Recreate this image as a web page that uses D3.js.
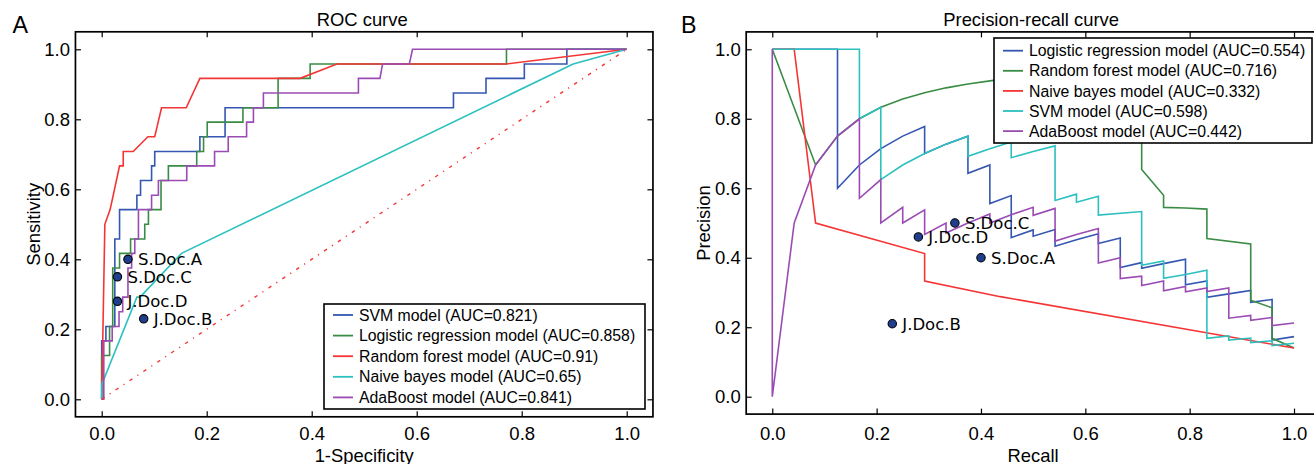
<!DOCTYPE html>
<html>
<head>
<meta charset="utf-8">
<script src="https://cdn.jsdelivr.net/npm/d3@7"></script>
<style>
  html, body { margin: 0; padding: 0; background: #fff; overflow: hidden; }
  svg { display: block; }
  text { font-family: "Liberation Sans", Arial, Helvetica, sans-serif; fill: #000; }
  .doc-label { font-family: "DejaVu Sans", sans-serif; }
</style>
</head>
<body>
<svg id="fig" width="1314" height="464"></svg>
<script>
// ---------- ROC curves (false positive rate / sensitivity) ----------
const rocSvmFpr = [0, 0, 0.008, 0.008, 0.025, 0.025, 0.034, 0.034, 0.067, 0.067, 0.074, 0.074, 0.095, 0.095, 0.101, 0.101, 0.187, 0.187, 0.235, 0.235, 0.67, 0.67, 0.732, 0.732, 0.805, 0.805, 0.886, 0.886, 1];
const rocSvmTpr = [0, 0.167, 0.167, 0.208, 0.208, 0.458, 0.458, 0.542, 0.542, 0.583, 0.583, 0.625, 0.625, 0.667, 0.667, 0.708, 0.708, 0.75, 0.75, 0.833, 0.833, 0.875, 0.875, 0.917, 0.917, 0.958, 0.958, 1, 1];

const rocLrFpr = [0, 0, 0.015, 0.015, 0.021, 0.021, 0.034, 0.034, 0.055, 0.055, 0.082, 0.082, 0.089, 0.089, 0.113, 0.113, 0.127, 0.127, 0.181, 0.181, 0.194, 0.194, 0.201, 0.201, 0.269, 0.269, 0.336, 0.336, 0.397, 0.397, 0.771, 0.771, 1];
const rocLrTpr = [0, 0.125, 0.125, 0.208, 0.208, 0.375, 0.375, 0.417, 0.417, 0.458, 0.458, 0.5, 0.5, 0.542, 0.542, 0.625, 0.625, 0.667, 0.667, 0.708, 0.708, 0.75, 0.75, 0.792, 0.792, 0.833, 0.833, 0.917, 0.917, 0.958, 0.958, 1, 1];

const rocRfFpr = [0, 0.006, 0.016, 0.022, 0.034, 0.041, 0.041, 0.06, 0.088, 0.101, 0.114, 0.161, 0.187, 0.378, 0.448, 0.771, 1];
const rocRfTpr = [0, 0.5, 0.542, 0.583, 0.667, 0.667, 0.708, 0.708, 0.75, 0.75, 0.833, 0.833, 0.917, 0.917, 0.958, 0.958, 1];

const rocNbFpr = [0, 0, 0.067, 0.073, 0.152, 0.898, 1];
const rocNbTpr = [0, 0.042, 0.292, 0.292, 0.417, 0.958, 1];

const rocAdaFpr = [0, 0.004, 0.004, 0.02, 0.02, 0.033, 0.033, 0.04, 0.04, 0.05, 0.05, 0.057, 0.057, 0.063, 0.063, 0.07, 0.07, 0.095, 0.095, 0.108, 0.108, 0.162, 0.162, 0.215, 0.215, 0.241, 0.241, 0.276, 0.276, 0.289, 0.289, 0.308, 0.308, 0.489, 0.489, 0.53, 0.535, 0.586, 0.592, 1];
const rocAdaTpr = [0, 0, 0.167, 0.167, 0.208, 0.208, 0.25, 0.25, 0.292, 0.292, 0.375, 0.375, 0.417, 0.417, 0.458, 0.458, 0.542, 0.542, 0.583, 0.583, 0.625, 0.625, 0.667, 0.667, 0.708, 0.708, 0.75, 0.75, 0.792, 0.792, 0.833, 0.833, 0.875, 0.875, 0.917, 0.917, 0.958, 0.958, 1, 1];

const rocLabels = ["SVM model (AUC=0.821)", "Logistic regression model (AUC=0.858)", "Random forest model (AUC=0.91)", "Naive bayes model (AUC=0.65)", "AdaBoost model (AUC=0.841)"];

// ---------- Precision-recall curves ----------
const prLrRecall = [0, 0.125, 0.125, 0.167, 0.208, 0.25, 0.292, 0.292, 0.333, 0.375, 0.375, 0.417, 0.417, 0.458, 0.458, 0.5, 0.5, 0.542, 0.542, 0.583, 0.625, 0.625, 0.667, 0.667, 0.708, 0.708, 0.75, 0.792, 0.792, 0.833, 0.833, 0.875, 0.917, 0.917, 0.958, 0.958, 1];
const prLrPrecision = [1, 1, 0.6, 0.667, 0.714, 0.75, 0.778, 0.7, 0.727, 0.75, 0.643, 0.667, 0.556, 0.579, 0.458, 0.48, 0.462, 0.481, 0.433, 0.452, 0.469, 0.441, 0.457, 0.372, 0.386, 0.37, 0.383, 0.396, 0.322, 0.333, 0.286, 0.296, 0.306, 0.272, 0.28, 0.163, 0.173];

const prRfRecall = [0, 0.083, 0.125, 0.167, 0.208, 0.25, 0.292, 0.333, 0.375, 0.417, 0.458, 0.5, 0.542, 0.583, 0.625, 0.667, 0.708, 0.708, 0.75, 0.75, 0.792, 0.833, 0.833, 0.917, 0.917, 0.958, 0.958, 1];
const prRfPrecision = [1, 0.667, 0.75, 0.8, 0.833, 0.857, 0.875, 0.889, 0.9, 0.909, 0.917, 0.923, 0.929, 0.933, 0.938, 0.941, 0.944, 0.654, 0.58, 0.545, 0.543, 0.54, 0.455, 0.44, 0.278, 0.256, 0.168, 0.14];

const prNbRecall = [0, 0.042, 0.083, 0.292, 0.292, 0.437, 1];
const prNbPrecision = [1, 1, 0.5, 0.412, 0.333, 0.288, 0.14];

const prSvmRecall = [0, 0.167, 0.167, 0.208, 0.208, 0.25, 0.292, 0.333, 0.375, 0.375, 0.417, 0.458, 0.458, 0.5, 0.542, 0.542, 0.583, 0.583, 0.625, 0.625, 0.708, 0.708, 0.75, 0.75, 0.792, 0.833, 0.833, 0.875, 0.875, 0.917, 0.917, 0.958, 0.958, 1];
const prSvmPrecision = [1, 1, 0.8, 0.833, 0.625, 0.667, 0.7, 0.727, 0.75, 0.692, 0.714, 0.733, 0.688, 0.706, 0.722, 0.565, 0.583, 0.56, 0.577, 0.523, 0.533, 0.378, 0.391, 0.341, 0.352, 0.364, 0.168, 0.175, 0.163, 0.169, 0.156, 0.161, 0.147, 0.154];

const prAdaRecall = [0, 0, 0.042, 0.083, 0.125, 0.167, 0.167, 0.208, 0.208, 0.25, 0.25, 0.292, 0.292, 0.333, 0.333, 0.375, 0.417, 0.417, 0.458, 0.5, 0.5, 0.542, 0.542, 0.583, 0.625, 0.625, 0.667, 0.667, 0.708, 0.708, 0.75, 0.75, 0.792, 0.792, 0.833, 0.833, 0.875, 0.875, 0.917, 0.917, 0.958, 0.958, 1];
const prAdaPrecision = [1, 0, 0.5, 0.667, 0.75, 0.8, 0.571, 0.625, 0.5, 0.545, 0.5, 0.538, 0.467, 0.5, 0.471, 0.5, 0.526, 0.5, 0.524, 0.545, 0.522, 0.542, 0.448, 0.467, 0.484, 0.385, 0.4, 0.34, 0.347, 0.32, 0.333, 0.305, 0.317, 0.302, 0.313, 0.303, 0.313, 0.226, 0.234, 0.22, 0.228, 0.205, 0.212];

const prLabels = ["Logistic regression model (AUC=0.554)", "Random forest model (AUC=0.716)", "Naive bayes model (AUC=0.332)", "SVM model (AUC=0.598)", "AdaBoost model (AUC=0.442)"];

// ---------- Individual readers ----------
const docNames = ["S.Doc.A", "S.Doc.C", "J.Doc.D", "J.Doc.B"];
const docFpr = [0.05, 0.03, 0.03, 0.08];
const docSensitivity = [0.40, 0.35, 0.28, 0.23];
const docRecall = [0.40, 0.35, 0.28, 0.23];
const docPrecision = [0.40, 0.50, 0.46, 0.21];

const tickValues = [0, 0.2, 0.4, 0.6, 0.8, 1.0];

// ---------- styling ----------
const C = { blue: "#3457b2", green: "#3a8c45", red: "#f53535", cyan: "#2cc0c0", purple: "#9a4cb4" };
const rocColors = [C.blue, C.green, C.red, C.cyan, C.purple];
const prColors = [C.blue, C.green, C.red, C.cyan, C.purple];
const tickFont = 18.5, labelFont = 18.4, legendFont = 15.8;

const svg = d3.select("#fig");

function zip(xs, ys) { return xs.map((x, i) => [x, ys[i]]); }

function panel(opts) {
  const { x, y, title, xLabel, yLabel, letter, letterX, yLabelX, padBottom } = opts;
  const g = svg.append("g");
  const [x0, x1] = x.range(), [y0, y1] = y.range();

  // ticks pointing inward on all four sides
  const fmt = d3.format(".1f");
  g.append("g").attr("transform", `translate(0,${y0})`)
    .call(d3.axisBottom(x).tickValues(tickValues).tickFormat(fmt).tickSize(-5.5).tickPadding(padBottom))
    .call(a => a.select(".domain").remove());
  g.append("g").attr("transform", `translate(0,${y1})`)
    .call(d3.axisTop(x).tickValues(tickValues).tickFormat("").tickSize(-5.5))
    .call(a => a.select(".domain").remove());
  g.append("g").attr("transform", `translate(${x0},0)`)
    .call(d3.axisLeft(y).tickValues(tickValues).tickFormat(fmt).tickSize(-5.5).tickPadding(5.5))
    .call(a => a.select(".domain").remove());
  g.append("g").attr("transform", `translate(${x1},0)`)
    .call(d3.axisRight(y).tickValues(tickValues).tickFormat("").tickSize(-5.5))
    .call(a => a.select(".domain").remove());
  g.selectAll(".tick line").attr("stroke", "#000").attr("stroke-width", 1.2);
  g.selectAll(".tick text").attr("font-size", tickFont).attr("font-family", "Liberation Sans, Arial, sans-serif").attr("fill", "#000");

  // titles and labels
  g.append("text").attr("x", (x0 + x1) / 2 - 2).attr("y", 26).attr("text-anchor", "middle")
    .attr("font-size", labelFont).text(title);
  g.append("text").attr("x", (x0 + x1) / 2).attr("y", 462).attr("text-anchor", "middle")
    .attr("font-size", labelFont).text(xLabel);
  g.append("text").attr("transform", `translate(${yLabelX},${(y0 + y1) / 2}) rotate(-90)`)
    .attr("text-anchor", "middle").attr("font-size", labelFont).text(yLabel);
  g.append("text").attr("x", letterX).attr("y", 33.3).attr("font-size", 23.3).text(letter);

  const plot = g.append("g");
  return { g, plot, frame: () => g.append("rect").attr("x", x0).attr("y", y1)
      .attr("width", x1 - x0).attr("height", y0 - y1)
      .attr("fill", "none").attr("stroke", "#000").attr("stroke-width", 1.7) };
}

function drawLines(plot, x, y, series, colors) {
  const line = d3.line().x(d => x(d[0])).y(d => y(d[1]));
  series.forEach((s, i) => {
    plot.append("path").datum(s).attr("d", line)
      .attr("fill", "none").attr("stroke", colors[i]).attr("stroke-width", 1.6)
      .attr("stroke-linejoin", "miter");
  });
}

function drawDocs(plot, x, y, xs, ys) {
  docNames.forEach((name, i) => {
    plot.append("circle").attr("cx", x(xs[i])).attr("cy", y(ys[i])).attr("r", 4.2)
      .attr("fill", "#1f3f8e").attr("stroke", "#000").attr("stroke-width", 1.1);
    plot.append("text").attr("class", "doc-label")
      .attr("x", x(xs[i]) + 10).attr("y", y(ys[i]) + 6)
      .attr("font-size", 16.5).text(name);
  });
}

function drawLegend(g, bx, by, bw, bh, labels, colors, row0, step) {
  g.append("rect").attr("x", bx).attr("y", by).attr("width", bw).attr("height", bh)
    .attr("fill", "#fff").attr("stroke", "#000").attr("stroke-width", 1.6);
  labels.forEach((lab, i) => {
    const cy = row0 + i * step;
    g.append("line").attr("x1", bx + 9).attr("x2", bx + 29).attr("y1", cy).attr("y2", cy)
      .attr("stroke", colors[i]).attr("stroke-width", 1.8);
    g.append("text").attr("x", bx + 35).attr("y", cy + 5.6).attr("font-size", legendFont).text(lab);
  });
}

// ---------- Panel A: ROC ----------
const xA = d3.scaleLinear().domain([-0.05, 1.05]).range([75.45, 652.95]);
const yA = d3.scaleLinear().domain([-0.05, 1.05]).range([416.8, 31.8]);
const A = panel({ x: xA, y: yA, title: "ROC curve", xLabel: "1-Specificity", yLabel: "Sensitivity",
                  letter: "A", letterX: 12.5, yLabelX: 39.5, padBottom: 10.2 });
drawLines(A.plot, xA, yA, [
  zip(rocSvmFpr, rocSvmTpr), zip(rocLrFpr, rocLrTpr), zip(rocRfFpr, rocRfTpr),
  zip(rocNbFpr, rocNbTpr), zip(rocAdaFpr, rocAdaTpr)
], rocColors);
// chance diagonal
A.plot.append("path").datum([[0, 0], [1, 1]])
  .attr("d", d3.line().x(d => xA(d[0])).y(d => yA(d[1])))
  .attr("fill", "none").attr("stroke", C.red).attr("stroke-width", 1.4)
  .attr("stroke-dasharray", "3.5,6,1.2,6");
drawDocs(A.plot, xA, yA, docFpr, docSensitivity);
drawLegend(A.g, 324, 304, 321, 105, rocLabels, rocColors, 315, 20.6);
A.frame();

// ---------- Panel B: Precision-recall ----------
const xB = d3.scaleLinear().domain([-0.05, 1.05]).range([746.2, 1320.1]);
const yB = d3.scaleLinear().domain([-0.05, 1.05]).range([414.1, 31.9]);
const B = panel({ x: xB, y: yB, title: "Precision-recall curve", xLabel: "Recall", yLabel: "Precision",
                  letter: "B", letterX: 681, yLabelX: 709.5, padBottom: 12.5 });
drawLines(B.plot, xB, yB, [
  zip(prLrRecall, prLrPrecision), zip(prRfRecall, prRfPrecision), zip(prNbRecall, prNbPrecision),
  zip(prSvmRecall, prSvmPrecision), zip(prAdaRecall, prAdaPrecision)
], prColors);
drawDocs(B.plot, xB, yB, docRecall, docPrecision);
drawLegend(B.g, 994, 38, 318, 105, prLabels, prColors, 50.7, 20.1);
B.frame();
</script>
</body>
</html>
